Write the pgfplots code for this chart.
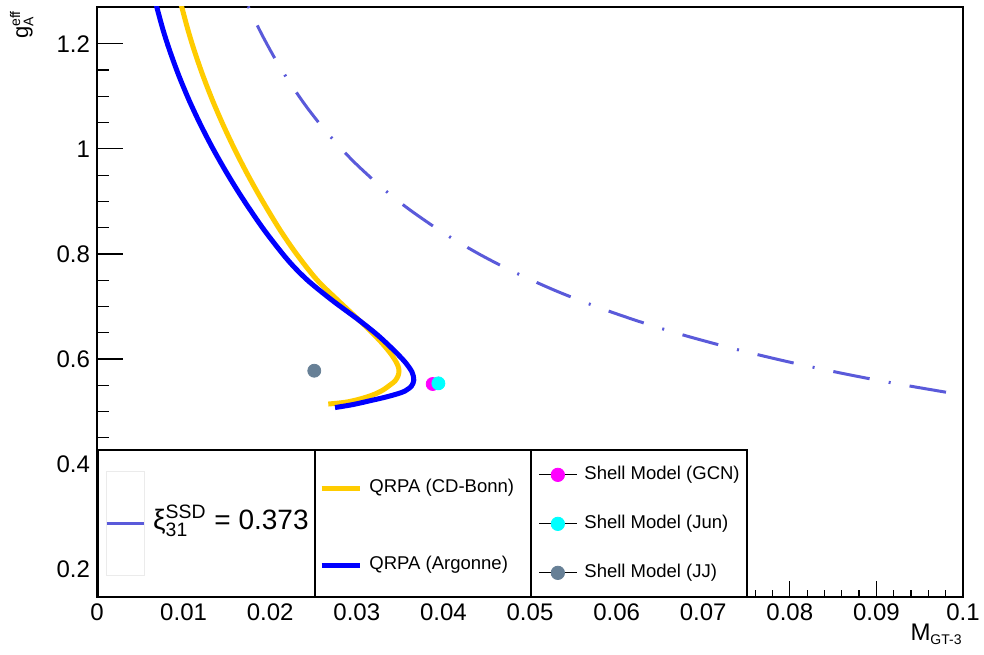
\documentclass[border=0pt]{standalone}
\usepackage{pgfplots}
\pgfplotsset{compat=1.18}
\usepackage{fontspec}
\setmainfont{Liberation Sans}
\definecolor{ddcol}{RGB}{90,90,218}
\definecolor{cdbonn}{RGB}{255,204,0}
\definecolor{argonne}{RGB}{0,0,255}
\definecolor{gcn}{RGB}{255,0,255}
\definecolor{jun}{RGB}{0,255,255}
\definecolor{jj}{RGB}{103,128,150}
\newcommand{\scr}[1]{\mbox{\fontsize{7}{7}\selectfont #1}}
\newcommand{\scrb}[1]{\mbox{\fontsize{9.7}{10}\selectfont #1}}

\pgfplotsset{
 base/.style={at={(48.5pt,28.5pt)}, anchor=south west, scale only axis,
   width=433pt, height=295pt, xmin=0, xmax=0.1, ymin=0.147, ymax=1.27,
   axis line style={line width=0.8pt}, tick style={line width=0.6pt, black}},
 legbase/.style={base, hide axis, legend cell align=left,
   legend style={draw=none, fill=none, inner sep=0pt, column sep=3.7pt,
     nodes={inner sep=0pt, text height=6.6pt, text depth=2.4pt},
     font=\fontsize{9.25}{11}\selectfont}},
}

\begin{document}
\begin{tikzpicture}
\path[use as bounding box] (0,0) rectangle (492pt,327pt);
% x ticks
\begin{axis}[base, ytick=\empty,
  xtick={0,0.01,0.02,0.03,0.04,0.05,0.06,0.07,0.08,0.09,0.1},
  xticklabels={0,0.01,0.02,0.03,0.04,0.05,0.06,0.07,0.08,0.09,0.1},
  minor x tick num=4, tick pos=left, major tick length=8pt, minor tick length=3.5pt,
  xticklabel style={font=\fontsize{12}{12}\selectfont}]
\end{axis}
% y ticks + data
\begin{axis}[base, xtick=\empty,
  ytick={0.2,0.4,0.6,0.8,1,1.2}, yticklabels={0.2,0.4,0.6,0.8,1,1.2},
  minor y tick num=3, tick pos=left, major tick length=13pt, minor tick length=6pt,
  yticklabel style={font=\fontsize{12}{12}\selectfont}]
\addplot[ddcol, line width=1.5pt, smooth, dash pattern=on 18.5pt off 9.7pt on 1pt off 9.6pt, dash phase=6pt]
 coordinates {(0.0155,1.3494)(0.0165,1.3079)(0.0177,1.2628)(0.019,1.2188)(0.0205,1.1733)
 (0.022,1.1327)(0.024,1.0844)(0.026,1.0419)(0.028,1.0040)(0.030,0.9699)(0.033,0.9248)
 (0.036,0.8854)(0.040,0.8400)(0.044,0.8009)(0.048,0.7668)(0.053,0.7297)(0.058,0.6976)
 (0.063,0.6693)(0.068,0.6442)(0.074,0.6176)(0.080,0.5940)(0.086,0.5729)(0.092,0.5539)(0.100,0.5313)};
\addplot[cdbonn, line width=2.5pt, smooth]
 coordinates {(0.009423,1.2933)(0.009781,1.2705)(0.010497,1.2267)(0.011201,1.1886)
 (0.012194,1.1410)(0.013314,1.0933)(0.014561,1.0457)(0.015924,0.9981)(0.017413,0.9505)
 (0.019030,0.9029)(0.021132,0.8457)(0.023118,0.7981)(0.025404,0.7505)(0.027771,0.7124)
 (0.029619,0.6838)(0.031467,0.6552)(0.032794,0.6324)(0.033776,0.6133)(0.034411,0.5981)
 (0.034758,0.5867)(0.034873,0.5771)(0.034758,0.5676)(0.034411,0.5581)(0.033834,0.5505)
 (0.033025,0.5410)(0.032102,0.5333)(0.031143,0.5276)(0.029908,0.5219)(0.028834,0.5181)
 (0.027714,0.5158)(0.026709,0.5143)};
\addplot[argonne, line width=2.5pt, smooth]
 coordinates {(0.006547,1.2933)(0.006894,1.2705)(0.007621,1.2267)(0.008360,1.1886)
 (0.009411,1.1410)(0.010612,1.0933)(0.011963,1.0457)(0.013464,0.9981)(0.015115,0.9505)
 (0.016917,0.9029)(0.019296,0.8457)(0.022021,0.7886)(0.024273,0.7505)(0.027102,0.7124)
 (0.030219,0.6743)(0.032390,0.6457)(0.034249,0.6171)(0.035566,0.5943)(0.036374,0.5752)
 (0.036582,0.5600)(0.036316,0.5486)(0.035566,0.5390)(0.034607,0.5333)(0.033141,0.5267)
 (0.031871,0.5219)(0.029561,0.5133)(0.027483,0.5076)};
\addplot[only marks, mark=*, mark size=3.25pt, gcn, mark options={draw=gcn, fill=gcn}] coordinates {(0.03876,0.5524)};
\addplot[only marks, mark=*, mark size=3.25pt, jun, mark options={draw=jun, fill=jun}] coordinates {(0.03942,0.5537)};
\addplot[only marks, mark=*, mark size=3.25pt, jj, mark options={draw=jj, fill=jj}] coordinates {(0.02509,0.5777)};
\end{axis}
% axis titles
\node[rotate=90, anchor=base east, inner sep=0pt] at (14pt,322pt) {\fontsize{11}{11}\selectfont g$^{\scr{eff}}_{\scr{A}}$};
\node[anchor=north east, inner sep=0pt] at (481.5pt,15pt) {\fontsize{12}{12}\selectfont M$_{\scr{GT-3}}$};
% legend boxes
\fill[white] (49pt,28.5pt) rectangle (373.5pt,102pt);
\draw[line width=0.55pt] (49pt,28.5pt) rectangle (157.5pt,102pt);
\draw[line width=0.55pt] (157.5pt,28.5pt) rectangle (265.5pt,102pt);
\draw[line width=0.55pt] (265.5pt,28.5pt) rectangle (373.5pt,102pt);
% legend 1
\begin{axis}[legbase, legend style={at={(0.0090,0.1249)}, anchor=west,
   nodes={text height=9pt, text depth=3pt}, font=\fontsize{14}{14}\selectfont}]
\addlegendimage{legend image code/.code={
  \draw[black!8, line width=0.5pt] (0pt,-25.9pt) rectangle (18.8pt,25.9pt);
  \draw[ddcol, line width=1.5pt] (0pt,0pt) -- (18.8pt,0pt);}}
\addlegendentry{ξ$^{\scrb{SSD}}_{\scrb{31}}$ = 0.373}
\end{axis}
% legend 2
\begin{axis}[legbase, legend style={at={(0.2560,0.1190)}, anchor=west, row sep=29.5pt}]
\addlegendimage{legend image code/.code={
  \draw[cdbonn, line width=2.5pt] (0pt,0pt) -- (19pt,0pt);}}
\addlegendentry{QRPA (CD-Bonn)}
\addlegendimage{legend image code/.code={
  \draw[argonne, line width=2.5pt] (0pt,0pt) -- (19pt,0pt);}}
\addlegendentry{QRPA (Argonne)}
\end{axis}
% legend 3
\begin{axis}[legbase, legend style={at={(0.5095,0.124)}, anchor=west, row sep=15.5pt}]
\addlegendimage{legend image code/.code={
  \draw[black, line width=0.5pt] (0pt,0pt) -- (18.7pt,0pt);
  \fill[gcn] (9.35pt,0pt) circle[radius=3.35pt];}}
\addlegendentry{Shell Model (GCN)}
\addlegendimage{legend image code/.code={
  \draw[black, line width=0.5pt] (0pt,0pt) -- (18.7pt,0pt);
  \fill[jun] (9.35pt,0pt) circle[radius=3.35pt];}}
\addlegendentry{Shell Model (Jun)}
\addlegendimage{legend image code/.code={
  \draw[black, line width=0.5pt] (0pt,0pt) -- (18.7pt,0pt);
  \fill[jj] (9.35pt,0pt) circle[radius=3.35pt];}}
\addlegendentry{Shell Model (JJ)}
\end{axis}
\end{tikzpicture}
\end{document}
